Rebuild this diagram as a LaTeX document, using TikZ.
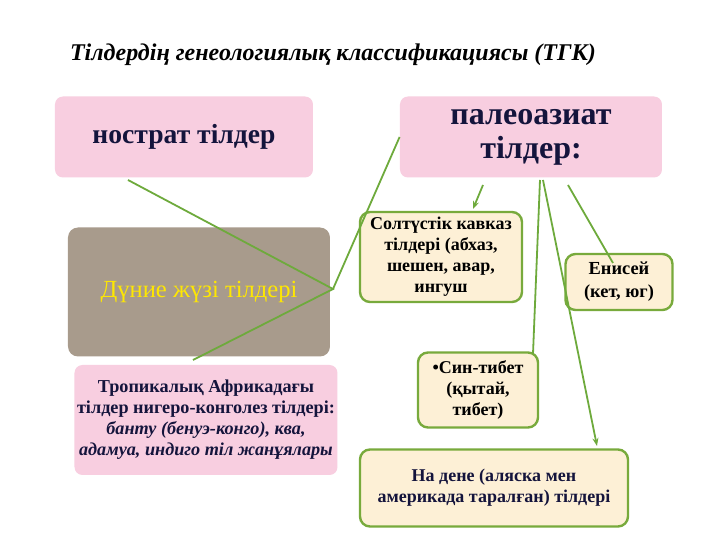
\documentclass[tikz,border=0pt]{standalone}
\usepackage{fontspec}
\setmainfont{Liberation Serif}
\usetikzlibrary{arrows.meta}
\definecolor{pinkbox}{RGB}{248,206,224}
\definecolor{cream}{RGB}{253,240,214}
\definecolor{gborder}{RGB}{120,170,60}
\definecolor{gline}{RGB}{110,170,60}
\definecolor{grain}{RGB}{168,155,140}
\definecolor{navy}{RGB}{20,20,60}
\tikzset{
 pbox/.style={fill=pinkbox,rounded corners=4pt,inner sep=0pt,text=navy,font=\bfseries,align=center},
 cbox/.style={fill=cream,draw=gborder,line width=1.2pt,rounded corners=5pt,inner sep=0pt,font=\bfseries\fontsize{9}{10.5}\selectfont,align=center},
 gl/.style={draw=gline,line width=0.9pt},
 ga/.style={gl,-{Stealth[length=4pt]}}
}
\begin{document}
\begin{tikzpicture}[x=0.5pt,y=-0.5pt]
\useasboundingbox[fill=white] (0,0) rectangle (720,540);
\node[font=\bfseries\itshape\fontsize{12}{14}\selectfont,anchor=west] (title) at (63,55) {Тілдердің генеологиялық классификациясы (ТГК)};
\node[pbox,minimum width=129pt,minimum height=40.5pt,font=\bfseries\fontsize{13.8}{16}\selectfont] (nost) at (184,137) {нострат тілдер};
\node[pbox,minimum width=131pt,minimum height=40.5pt,font=\bfseries\fontsize{16}{17}\selectfont] (paleo) at (531,137) {палеоазиат\\тілдер:};
\node[fill=grain,rounded corners=5pt,minimum width=131pt,minimum height=64.5pt,inner sep=0pt,text=yellow!90!orange,font=\fontsize{12.3}{14}\selectfont] (dun) at (199,292) {Дүние жүзі тілдері};
\node[pbox,minimum width=131.5pt,minimum height=55pt,font=\bfseries\fontsize{9.1}{10.5}\selectfont] (trop) at (206,420) {Тропикалық Африкадағы\\тілдер нигеро-конголез тілдері:\\\textit{банту (бенуэ-конго), ква,}\\\textit{адамуа, индиго тіл жанұялары}};
\node[cbox,minimum width=81pt,minimum height=45pt] (solt) at (441,257) {Солтүстік кавказ\\тілдері (абхаз,\\шешен, авар,\\ингуш};
\node[cbox,minimum width=53.5pt,minimum height=28pt,font=\bfseries\fontsize{9.2}{11.5}\selectfont] (enis) at (619,282) {Енисей\\(кет, юг)};
\node[cbox,minimum width=60pt,minimum height=37.5pt] (sin) at (478,390) {•Син-тибет\\(қытай,\\тибет)};
\node[cbox,minimum width=134pt,minimum height=38.5pt,text=navy] (nad) at (494,488) {На дене (аляска мен\\америкада таралған) тілдері};
\coordinate (j) at (333,289);
\coordinate (a1) at (128,180);
\coordinate (a3) at (193,360);
\draw[gl] (a1) -- (j) -- (a3);
\draw[gl] (j) -- (paleo.west);
\coordinate (p1) at (483,185);
\coordinate (p2) at (540,180);
\coordinate (p3) at (543,180);
\coordinate (p4) at (568,185);
\coordinate (s1) at (533,354);
\coordinate (n1) at (597,446);
\coordinate (e1) at (613,263);
\coordinate (t1) at (473,209);
\draw[ga] (p1) -- (t1);
\draw[gl] (p2) -- (s1);
\draw[ga] (p3) -- (n1);
\draw[gl] (p4) -- (e1);
\end{tikzpicture}
\end{document}
